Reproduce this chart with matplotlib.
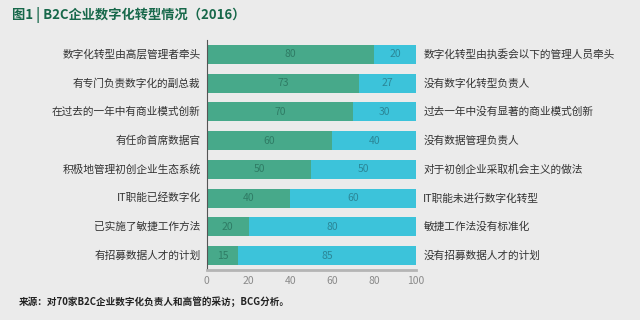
import matplotlib
matplotlib.use("Agg")
import matplotlib.pyplot as plt
import numpy as np

plt.rcParams['font.family'] = ['Noto Sans CJK SC', 'DejaVu Sans']

# データ
left_labels = ["数字化转型由高层管理者牵头", "有专门负责数字化的副总裁", "在过去的一年中有商业模式创新",
               "有任命首席数据官", "积极地管理初创企业生态系统", "IT职能已经数字化",
               "已实施了敏捷工作方法", "有招募数据人才的计划"]
right_labels = ["数字化转型由执委会以下的管理人员牵头", "没有数字化转型负责人", "过去一年中没有显著的商业模式创新",
                "没有数据管理负责人", "对于初创企业采取机会主义的做法", "IT职能未进行数字化转型",
                "敏捷工作法没有标准化", "没有招募数据人才的计划"]
yes_vals = [80, 73, 70, 60, 50, 40, 20, 15]
no_vals = [20, 27, 30, 40, 50, 60, 80, 85]
xticks = [0, 20, 40, 60, 80, 100]

bg = "#ebebeb"
green = "#47a98a"
cyan = "#3cc3da"

fig = plt.figure(figsize=(6.4, 3.2), dpi=100, facecolor=bg)
ax = fig.add_axes([0.323, 0.156, 0.327, 0.719], facecolor=bg)

y = np.arange(len(left_labels))
ax.barh(y, yes_vals, height=0.66, color=green)
ax.barh(y, no_vals, left=yes_vals, height=0.66, color=cyan)

for i in range(len(y)):
    ax.text(yes_vals[i] / 2, y[i], str(yes_vals[i]), ha="center", va="center",
            fontsize=7.5, color="#2f7c65", fontweight="light")
    ax.text(yes_vals[i] + no_vals[i] / 2, y[i], str(no_vals[i]), ha="center", va="center",
            fontsize=7.5, color="#2b8798", fontweight="light")
    ax.text(-3, y[i], left_labels[i], ha="right", va="center", fontsize=7.7, color="#333333")
    ax.text(103.5, y[i], right_labels[i], ha="left", va="center", fontsize=7.7, color="#333333")

ax.set_xlim(0, 100)
ax.set_ylim(7.5, -0.5)
ax.set_xticks(xticks)
ax.set_xticklabels([str(t) for t in xticks], fontsize=7.5, color="#8a8a8a")
ax.set_yticks([])
ax.tick_params(axis="x", length=0, pad=4)
ax.spines["top"].set_visible(False)
ax.spines["right"].set_visible(False)
ax.spines["left"].set_color("#555555")
ax.spines["left"].set_linewidth(0.8)
ax.spines["bottom"].set_color("#b5b5b5")
ax.spines["bottom"].set_linewidth(2)

fig.text(0.019, 0.952, "图1 | B2C企业数字化转型情况（2016）", fontsize=9.5, fontweight="bold",
         color="#17684a", ha="left", va="center")
fig.text(0.03, 0.058, "来源：对70家B2C企业数字化负责人和高管的采访；BCG分析。", fontsize=6.9,
         fontweight="bold", color="#222222", ha="left", va="center")

plt.savefig("out.png", facecolor=bg)
